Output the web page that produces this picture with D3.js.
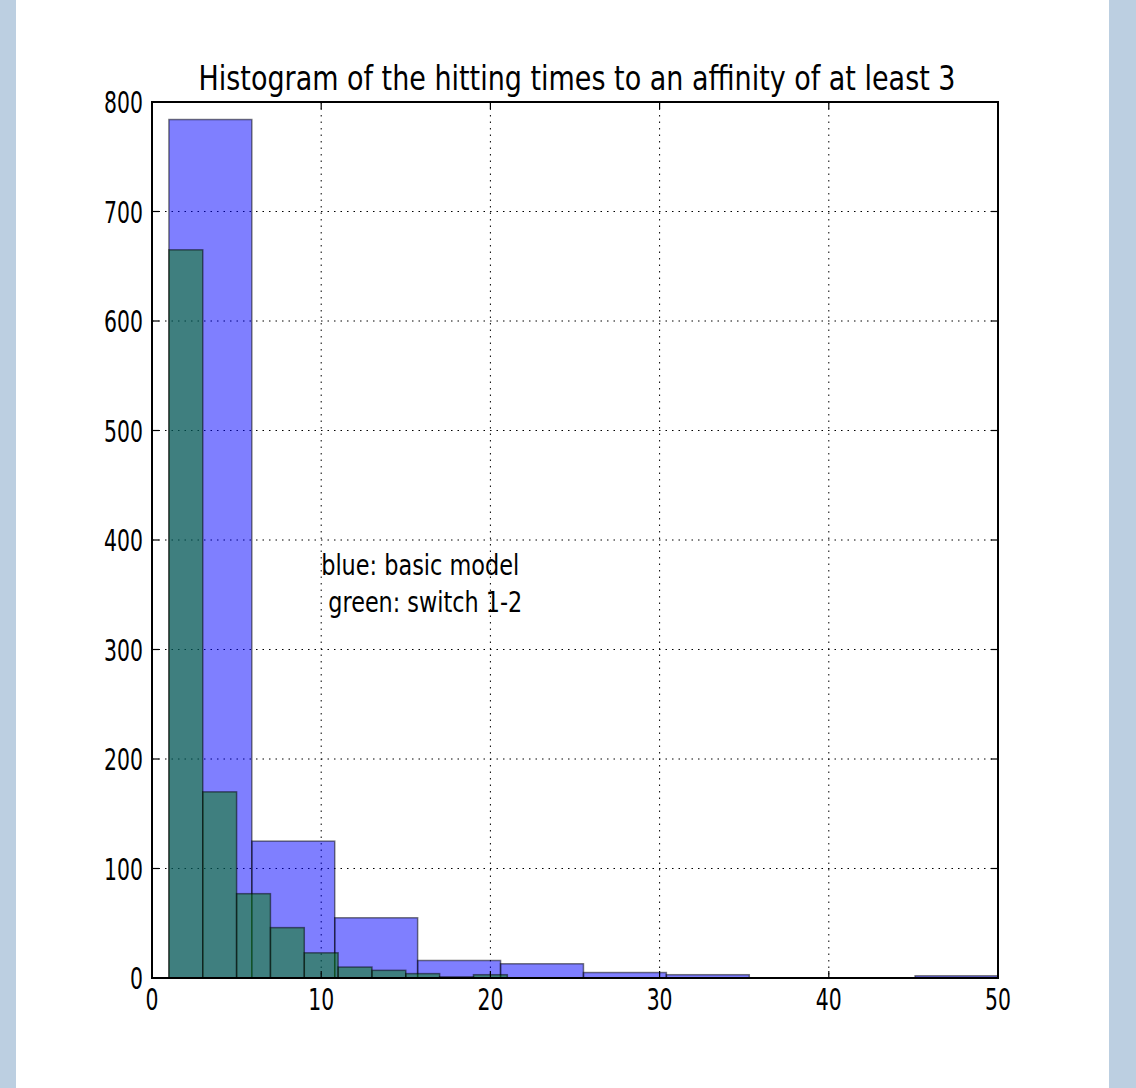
<!DOCTYPE html>
<html>
<head>
<meta charset="utf-8">
<script src="https://d3js.org/d3.v7.min.js"></script>
<style>
    body { margin: 0; background: #bccfe1; }
    text { font-family: "DejaVu Sans", sans-serif; fill: #000; }
</style>
</head>
<body>
<div id="graph"></div>
<script>
// histogram bin edges and counts
var blueEdges = [1, 5.9, 10.8, 15.7, 20.6, 25.5, 30.4, 35.3, 40.2, 45.1, 50];
var blueCounts = [784, 125, 55, 16, 13, 5, 3, 0, 0, 2];
var greenEdges = [1, 3, 5, 7, 9, 11, 13, 15, 17, 19, 21];
var greenCounts = [665, 170, 77, 46, 23, 10, 7, 4, 1, 3];
var xTicks = [0, 10, 20, 30, 40, 50];
var yTicks = [0, 100, 200, 300, 400, 500, 600, 700, 800];
var titleText = "Histogram of the hitting times to an affinity of at least 3";
var noteLines = ["blue: basic model", " green: switch 1-2"];

var W = 1136, H = 1088;
var margin = { top: 102, right: 138, bottom: 110, left: 152 };
var width = W - margin.left - margin.right,
    height = H - margin.top - margin.bottom;
var squeeze = 0.68;

var svg = d3.select("#graph")
    .append("svg")
    .attr("width", W)
    .attr("height", H);

// white page between the blue strips
svg.append("rect")
    .attr("x", 16).attr("y", 0)
    .attr("width", 1093).attr("height", H)
    .attr("fill", "#fff");

var g = svg.append("g")
    .attr("transform", "translate(" + margin.left + "," + margin.top + ")");

var x = d3.scaleLinear().domain([0, 50]).range([0, width]);
var y = d3.scaleLinear().domain([0, 800]).range([height, 0]);

// dotted grid under the bars
g.append("g").selectAll("line")
    .data(xTicks.slice(1, -1))
    .join("line")
    .attr("x1", d => x(d)).attr("x2", d => x(d))
    .attr("y1", 0).attr("y2", height)
    .attr("stroke", "#000").attr("stroke-width", 1)
    .attr("stroke-dasharray", "1.5,5");
g.append("g").selectAll("line")
    .data(yTicks.slice(1, -1))
    .join("line")
    .attr("x1", 0).attr("x2", width)
    .attr("y1", d => y(d)).attr("y2", d => y(d))
    .attr("stroke", "#000").attr("stroke-width", 1)
    .attr("stroke-dasharray", "1.5,5");

function drawHist(edges, counts, color) {
    var bins = counts.map(function (c, i) {
        return { x0: edges[i], x1: edges[i + 1], n: c };
    });
    g.append("g").selectAll("rect")
        .data(bins)
        .join("rect")
        .attr("x", d => x(d.x0))
        .attr("y", d => y(d.n))
        .attr("width", d => x(d.x1) - x(d.x0))
        .attr("height", d => y(0) - y(d.n))
        .attr("fill", color)
        .attr("fill-opacity", 0.5)
        .attr("stroke", "#000")
        .attr("stroke-opacity", 0.5)
        .attr("stroke-width", 1.5);
}
drawHist(blueEdges, blueCounts, "#0000ff");
drawHist(greenEdges, greenCounts, "#008000");

// axes frame
g.append("rect")
    .attr("width", width).attr("height", height)
    .attr("fill", "none")
    .attr("stroke", "#000")
    .attr("stroke-width", 2);

// inward ticks on all four sides
var tl = 7;
var tickG = g.append("g").attr("stroke", "#000").attr("stroke-width", 1.2);
xTicks.forEach(function (t) {
    tickG.append("line").attr("x1", x(t)).attr("x2", x(t)).attr("y1", height).attr("y2", height - tl);
    tickG.append("line").attr("x1", x(t)).attr("x2", x(t)).attr("y1", 0).attr("y2", tl);
});
yTicks.forEach(function (t) {
    tickG.append("line").attr("x1", 0).attr("x2", tl).attr("y1", y(t)).attr("y2", y(t));
    tickG.append("line").attr("x1", width).attr("x2", width - tl).attr("y1", y(t)).attr("y2", y(t));
});

// tick labels
g.append("g").selectAll("text")
    .data(xTicks)
    .join("text")
    .attr("transform", d => "translate(" + x(d) + "," + (height + 32) + ") scale(" + squeeze + ",1)")
    .attr("text-anchor", "middle")
    .style("font-size", "30px")
    .text(d => d);
g.append("g").selectAll("text")
    .data(yTicks)
    .join("text")
    .attr("transform", d => "translate(-9," + (y(d) + 11) + ") scale(" + squeeze + ",1)")
    .attr("text-anchor", "end")
    .style("font-size", "30px")
    .text(d => d);

// title
g.append("text")
    .attr("x", width / 2 + 2)
    .attr("y", -12)
    .attr("text-anchor", "middle")
    .attr("textLength", 757)
    .attr("lengthAdjust", "spacingAndGlyphs")
    .style("font-size", "33px")
    .text(titleText);

// annotation text
var noteLen = [198, 201];
g.append("g").selectAll("text")
    .data(noteLines)
    .join("text")
    .attr("x", x(10))
    .attr("y", (d, i) => y(400) + 35 + i * 37)
    .attr("textLength", (d, i) => noteLen[i])
    .attr("lengthAdjust", "spacingAndGlyphs")
    .style("font-size", "28px")
    .style("white-space", "pre")
    .text(d => d);
</script>
</body>
</html>
